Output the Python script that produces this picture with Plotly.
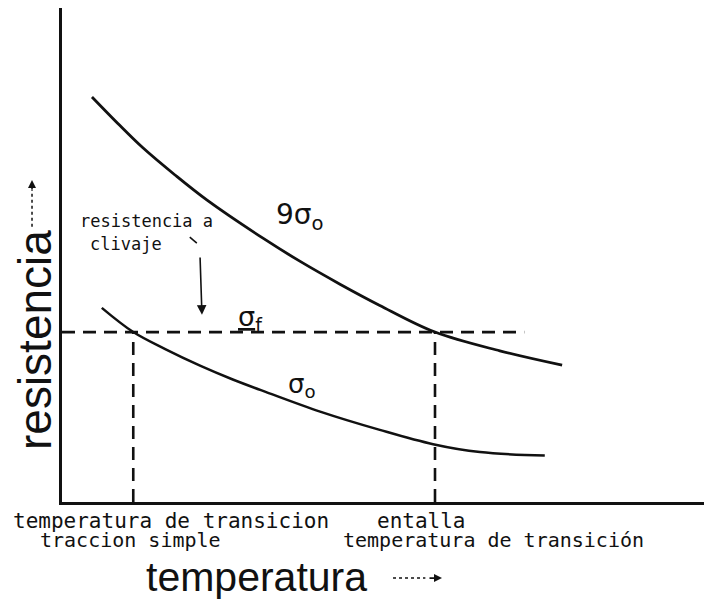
import plotly.graph_objects as go

# Strength vs. temperature (arbitrary units)
temp_upper = [4.67, 9.03, 12.6, 17.6, 22.6, 31.3, 37.1, 43.3, 49.5, 58.1, 68.2, 77.9]
res_upper = [82.0, 76.2, 71.7, 66.2, 61.1, 53.4, 48.7, 44.1, 39.8, 34.4, 30.6, 27.7]

temp_lower = [6.2, 11.1, 16.0, 21.5, 26.6, 31.9, 40.2, 49.5, 57.8, 65.1, 75.2]
res_lower = [39.3, 34.4, 31.0, 27.6, 24.8, 22.2, 18.3, 14.6, 11.7, 10.1, 9.4]

sigma_f = 34.4          # cleavage strength
sigma_f_end = 72.0      # where the dashed sigma_f line stops
t_traccion = 11.1       # transition temperature, plain tension
t_entalla = 58.1        # transition temperature, notched

INK = "#111111"
HAND = "DejaVu Sans Mono, monospace"
BIG = "Liberation Sans, Arial, sans-serif"
GREEK = "DejaVu Sans, sans-serif"
DASH = "13px,8px"

fig = go.Figure()

fig.add_trace(go.Scatter(x=temp_upper, y=res_upper, mode="lines",
                         line=dict(color=INK, width=2.8, shape="spline", smoothing=1.0),
                         hoverinfo="skip"))
fig.add_trace(go.Scatter(x=temp_lower, y=res_lower, mode="lines",
                         line=dict(color=INK, width=2.5, shape="spline", smoothing=1.0),
                         hoverinfo="skip"))

# dashed construction lines
fig.add_trace(go.Scatter(x=[0, sigma_f_end], y=[sigma_f, sigma_f], mode="lines",
                         line=dict(color=INK, width=2.8, dash=DASH), hoverinfo="skip"))
fig.add_trace(go.Scatter(x=[t_traccion, t_traccion], y=[0, sigma_f], mode="lines",
                         line=dict(color=INK, width=2.6, dash=DASH), hoverinfo="skip"))
fig.add_trace(go.Scatter(x=[t_entalla, t_entalla], y=[0, sigma_f], mode="lines",
                         line=dict(color=INK, width=2.6, dash=DASH), hoverinfo="skip"))


def note(x, y, text, font, xref="x", yref="y", **kw):
    d = dict(x=x, y=y, xref=xref, yref=yref, text=text, showarrow=False,
             yanchor="middle", font=font)
    d.setdefault("xanchor", "center")
    d.update(kw)
    return d


ann = []

# curve labels
ann.append(note(37.1, 57.7, "9σ<sub>o</sub>", dict(family=GREEK, size=28, color=INK)))
ann.append(note(29.3, 37.2, "<u>σ</u><sub>f</sub>", dict(family=GREEK, size=27, color=INK)))
ann.append(note(37.4, 23.5, "σ<sub>o</sub>", dict(family=GREEK, size=26, color=INK)))

# cleavage strength note with its pointer
ann.append(note(2.5, 56.9, "resistencia a", dict(family=HAND, size=17, color=INK),
                xanchor="left"))
ann.append(note(4.05, 52.2, "clivaje", dict(family=HAND, size=17, color=INK),
                xanchor="left"))
ann.append(dict(x=21.8, y=37.9, xref="x", yref="y", ax=21.5, ay=49.8,
                axref="x", ayref="y", text="", showarrow=True, arrowhead=2,
                arrowsize=1.2, arrowwidth=1.6, arrowcolor=INK))

# temperature markers under the axis
hand21 = dict(family=HAND, size=21, color=INK)
hand20 = dict(family=HAND, size=20, color=INK)
ann.append(note(-0.0794, -0.0385, "temperatura de transicion", hand21,
                xref="paper", yref="paper", xanchor="left"))
ann.append(note(-0.0374, -0.0775, "traccion simple", hand20,
                xref="paper", yref="paper", xanchor="left"))
ann.append(note(0.4875, -0.0385, "entalla", hand21,
                xref="paper", yref="paper", xanchor="left"))
ann.append(note(0.4346, -0.0775, "temperatura de transición", hand20,
                xref="paper", yref="paper", xanchor="left"))

# axis titles with their arrows
ann.append(note(0.1277, -0.152, "temperatura", dict(family=BIG, size=41, color=INK),
                xref="paper", yref="paper", xanchor="left"))
ann.append(dict(x=0.5919, y=-0.154, xref="paper", yref="paper",
                ax=-14, ay=0, text="", showarrow=True, arrowhead=2, arrowsize=1,
                arrowwidth=1.6, arrowcolor=INK))
ann.append(note(-0.042, 0.328, "resistencia", dict(family=BIG, size=46, color=INK),
                xref="paper", yref="paper", textangle=-90))
ann.append(dict(x=-0.0467, y=0.652, xref="paper", yref="paper",
                ax=0, ay=11, text="", showarrow=True, arrowhead=2, arrowsize=1,
                arrowwidth=1.6, arrowcolor=INK))

shapes = [
    # small tick leading into the pointer
    dict(type="line", xref="x", yref="y", x0=19.9, y0=53.6, x1=21.0, y1=52.4,
         line=dict(color=INK, width=1.6)),
    # dotted shafts of the axis-title arrows
    dict(type="line", xref="paper", yref="paper", x0=0.5156, y0=-0.154,
         x1=0.566, y1=-0.154, line=dict(color=INK, width=1.5, dash="dot")),
    dict(type="line", xref="paper", yref="paper", x0=-0.0467, y0=0.557,
         x1=-0.0467, y1=0.632, line=dict(color=INK, width=1.5, dash="dot")),
]

fig.update_layout(
    width=704, height=601,
    margin=dict(l=62, r=0, t=8, b=99),
    paper_bgcolor="white", plot_bgcolor="white",
    showlegend=False,
    annotations=ann, shapes=shapes,
    xaxis=dict(range=[0, 100], showline=True, linewidth=3, linecolor=INK,
               showgrid=False, zeroline=False, showticklabels=False, ticks=""),
    yaxis=dict(range=[0, 100], showline=True, linewidth=3, linecolor=INK,
               showgrid=False, zeroline=False, showticklabels=False, ticks=""),
)

fig.write_html("out.html")
